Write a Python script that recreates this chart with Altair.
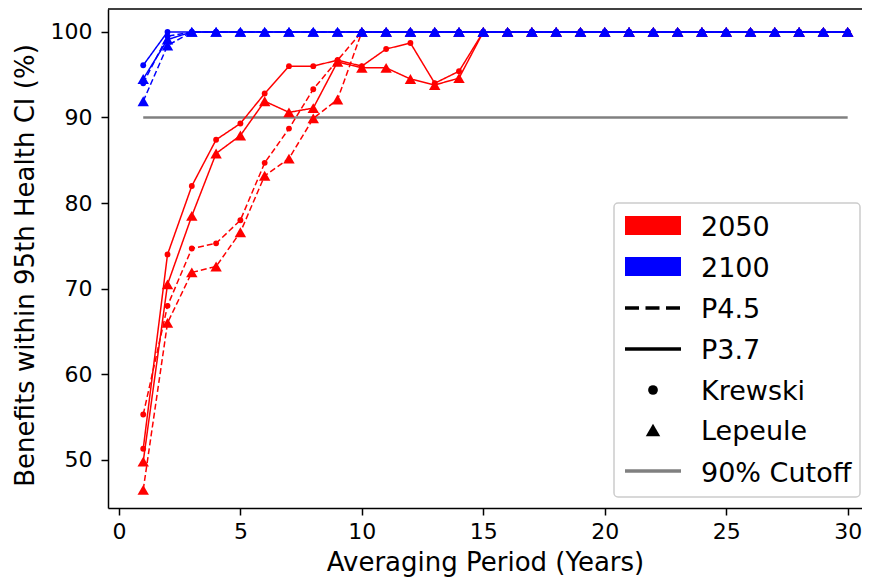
import altair as alt
import pandas as pd

years = list(range(1, 31))

# 2050 series
r_p37_krewski = [51.3, 74.0, 82.0, 87.4, 89.3, 92.8, 96.0, 96.0, 96.7, 96.0, 98.0, 98.7, 94.0, 95.4, 100.0,
                 100.0, 100.0, 100.0, 100.0, 100.0, 100.0, 100.0, 100.0, 100.0, 100.0, 100.0, 100.0, 100.0, 100.0, 100.0]
r_p37_lepeule = [49.8, 70.5, 78.5, 85.8, 87.9, 91.9, 90.6, 91.1, 96.5, 95.8, 95.8, 94.5, 93.8, 94.6, 100.0,
                 100.0, 100.0, 100.0, 100.0, 100.0, 100.0, 100.0, 100.0, 100.0, 100.0, 100.0, 100.0, 100.0, 100.0, 100.0]
r_p45_krewski = [55.3, 68.0, 74.7, 75.3, 78.0, 84.7, 88.7, 93.3, 96.7, 100.0, 100.0, 100.0, 100.0, 100.0, 100.0,
                 100.0, 100.0, 100.0, 100.0, 100.0, 100.0, 100.0, 100.0, 100.0, 100.0, 100.0, 100.0, 100.0, 100.0, 100.0]
r_p45_lepeule = [46.5, 66.0, 71.9, 72.6, 76.6, 83.2, 85.2, 89.9, 92.1, 100.0, 100.0, 100.0, 100.0, 100.0, 100.0,
                 100.0, 100.0, 100.0, 100.0, 100.0, 100.0, 100.0, 100.0, 100.0, 100.0, 100.0, 100.0, 100.0, 100.0, 100.0]
# 2100 series
b_p37_krewski = [96.1, 100.0, 100.0, 100.0, 100.0, 100.0, 100.0, 100.0, 100.0, 100.0, 100.0, 100.0, 100.0, 100.0, 100.0,
                 100.0, 100.0, 100.0, 100.0, 100.0, 100.0, 100.0, 100.0, 100.0, 100.0, 100.0, 100.0, 100.0, 100.0, 100.0]
b_p37_lepeule = [94.5, 99.1, 100.0, 100.0, 100.0, 100.0, 100.0, 100.0, 100.0, 100.0, 100.0, 100.0, 100.0, 100.0, 100.0,
                 100.0, 100.0, 100.0, 100.0, 100.0, 100.0, 100.0, 100.0, 100.0, 100.0, 100.0, 100.0, 100.0, 100.0, 100.0]
b_p45_krewski = [94.0, 99.5, 100.0, 100.0, 100.0, 100.0, 100.0, 100.0, 100.0, 100.0, 100.0, 100.0, 100.0, 100.0, 100.0,
                 100.0, 100.0, 100.0, 100.0, 100.0, 100.0, 100.0, 100.0, 100.0, 100.0, 100.0, 100.0, 100.0, 100.0, 100.0]
b_p45_lepeule = [91.9, 98.4, 100.0, 100.0, 100.0, 100.0, 100.0, 100.0, 100.0, 100.0, 100.0, 100.0, 100.0, 100.0, 100.0,
                 100.0, 100.0, 100.0, 100.0, 100.0, 100.0, 100.0, 100.0, 100.0, 100.0, 100.0, 100.0, 100.0, 100.0, 100.0]

cutoff_x = [1, 30]
cutoff_y = [90, 90]

x_ticks = [0, 5, 10, 15, 20, 25, 30]
y_ticks = [50, 60, 70, 80, 90, 100]

legend_labels = ["2050", "2100", "P4.5", "P3.7", "Krewski", "Lepeule", "90% Cutoff"]

series = [
    ("2050", "P4.5", "Krewski", r_p45_krewski),
    ("2050", "P4.5", "Lepeule", r_p45_lepeule),
    ("2050", "P3.7", "Krewski", r_p37_krewski),
    ("2050", "P3.7", "Lepeule", r_p37_lepeule),
    ("2100", "P4.5", "Krewski", b_p45_krewski),
    ("2100", "P4.5", "Lepeule", b_p45_lepeule),
    ("2100", "P3.7", "Krewski", b_p37_krewski),
    ("2100", "P3.7", "Lepeule", b_p37_lepeule),
]

rows = []
for order, (period, scen, study, vals) in enumerate(series):
    for yr, v in zip(years, vals):
        rows.append({"year": yr, "value": v, "period": period, "scenario": scen,
                     "study": study, "series": f"{period} {scen} {study}", "order": order})
df = pd.DataFrame(rows)

W, H = 754, 499
xscale = alt.Scale(domain=[-0.45, 30.59], nice=False, zero=False)
yscale = alt.Scale(domain=[44.38, 102.675], nice=False, zero=False)

xenc = alt.X("year:Q", scale=xscale,
             axis=alt.Axis(values=x_ticks, title="Averaging Period (Years)", format="d",
                           labelPadding=6, titleY=62.8, titleBaseline="alphabetic"))
yenc = alt.Y("value:Q", scale=yscale,
             axis=alt.Axis(values=y_ticks, title="Benefits within 95th Health CI (%)",
                           labelPadding=9, titleX=-75, titleY=256, titleBaseline="alphabetic"))

color = alt.Color("period:N", scale=alt.Scale(domain=["2050", "2100"], range=["#ff0000", "#0000ff"]), legend=None)
dash = alt.StrokeDash("scenario:N", scale=alt.Scale(domain=["P4.5", "P3.7"], range=[[6, 3], [1, 0]]), legend=None)
shape = alt.Shape("study:N", scale=alt.Scale(domain=["Krewski", "Lepeule"], range=["circle", "triangle-up"]), legend=None)
size = alt.Size("study:N", scale=alt.Scale(domain=["Krewski", "Lepeule"], range=[34, 130]), legend=None)

cut_df = pd.DataFrame({"year": cutoff_x, "value": cutoff_y})
cutoff = alt.Chart(cut_df).mark_line(color="#808080", strokeWidth=2.5).encode(x=xenc, y=yenc)

layers = [cutoff]
for period in ["2050", "2100"]:
    sub = df[df.period == period]
    lines = alt.Chart(sub).mark_line(strokeWidth=1.5).encode(
        x=xenc, y=yenc, color=color, strokeDash=dash, detail="series:N", order="year:Q")
    pts = alt.Chart(sub).mark_point(filled=True, opacity=1).encode(
        x=xenc, y=yenc, color=color, shape=shape, size=size)
    layers += [lines, pts]

# top spine (plot frame)
one = alt.Data(values=[{"a": 1}])
top_spine = alt.Chart(one).mark_rule(color="black", strokeWidth=1.5).encode(
    x=alt.value(0), x2=alt.value(W), y=alt.value(0))
layers.append(top_spine)

# legend
LX0, LX1, LY0, LY1 = 506, 752, 194, 488
box = alt.Chart(one).mark_rect(fill="white", fillOpacity=0.8, stroke="#cccccc", strokeWidth=1.5,
                               cornerRadius=4).encode(
    x=alt.value(LX0), x2=alt.value(LX1), y=alt.value(LY0), y2=alt.value(LY1))
layers.append(box)
sym_y = [216.5, 257.5, 299, 340, 381, 421, 462]
base_y = [227, 268, 309, 350, 391, 431, 472.5]
sx0, sx1, sxc, tx = 517, 573, 545, 593
layers.append(alt.Chart(one).mark_rect(color="#ff0000").encode(
    x=alt.value(sx0), x2=alt.value(sx1), y=alt.value(sym_y[0] - 9.5), y2=alt.value(sym_y[0] + 9.5)))
layers.append(alt.Chart(one).mark_rect(color="#0000ff").encode(
    x=alt.value(sx0), x2=alt.value(sx1), y=alt.value(sym_y[1] - 9.5), y2=alt.value(sym_y[1] + 9.5)))
layers.append(alt.Chart(one).mark_rule(color="black", strokeWidth=3.5, strokeDash=[14, 6.5]).encode(
    x=alt.value(sx0), x2=alt.value(sx1), y=alt.value(sym_y[2])))
layers.append(alt.Chart(one).mark_rule(color="black", strokeWidth=3.5).encode(
    x=alt.value(sx0), x2=alt.value(sx1), y=alt.value(sym_y[3])))
layers.append(alt.Chart(one).mark_point(filled=True, color="black", shape="circle", size=95, opacity=1).encode(
    x=alt.value(sxc), y=alt.value(sym_y[4])))
layers.append(alt.Chart(one).mark_point(filled=True, color="black", shape="triangle-up", size=210, opacity=1).encode(
    x=alt.value(sxc), y=alt.value(sym_y[5])))
layers.append(alt.Chart(one).mark_rule(color="#808080", strokeWidth=3.5).encode(
    x=alt.value(sx0), x2=alt.value(sx1), y=alt.value(sym_y[6])))
for lab, yy in zip(legend_labels, base_y):
    layers.append(alt.Chart(one).mark_text(text=lab, align="left", baseline="alphabetic", fontSize=27,
                                           font="DejaVu Sans", color="black").encode(
        x=alt.value(tx), y=alt.value(yy)))

chart = alt.layer(*layers).properties(
    width=W, height=H,
    autosize=alt.AutoSizeParams(type="none"),
    padding={"left": 100, "top": 1, "right": 0, "bottom": 69},
    background="white",
).configure_view(strokeWidth=0).configure_axis(
    labelFont="DejaVu Sans", titleFont="DejaVu Sans", labelFontSize=22, titleFontSize=26,
    titleFontWeight="normal", labelColor="black", titleColor="black",
    grid=False, domainColor="black", tickColor="black", domainWidth=1.5, tickWidth=1.5, tickSize=7,
)

chart.save("out.html", embed_options={"renderer": "svg", "actions": False})
